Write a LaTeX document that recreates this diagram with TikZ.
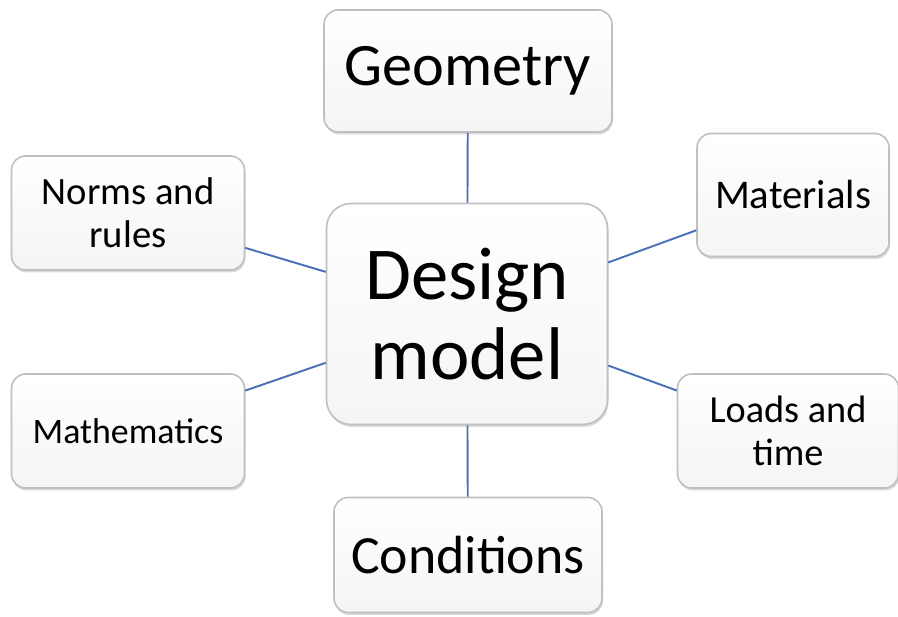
\documentclass[tikz,border=0pt]{standalone}
\usepackage{fontspec}
\setmainfont{Carlito}
\usetikzlibrary{shadows}
\definecolor{linkblue}{RGB}{74,112,182}

\tikzset{
  box/.style={rectangle,rounded corners=8pt,draw=gray!50,line width=0.9pt,
    top color=white,bottom color=gray!8,align=center,inner sep=2pt,
    drop shadow={opacity=0.3,shadow xshift=0.6pt,shadow yshift=-1.4pt}},
  big/.style={font=\fontsize{42.5}{46}\selectfont,rounded corners=14pt}
}

\begin{document}
\begin{tikzpicture}[x=0.02cm,y=-0.02cm]
    \useasboundingbox (0,0) rectangle (898,617);

    \node[box,font=\fontsize{34.3}{38}\selectfont,minimum width=5.76cm,minimum height=2.44cm] (geometry) at (468,71) {Geometry};
    \node[box,big,minimum width=5.62cm,minimum height=4.42cm] (design) at (467,314) {Design\\model};
    \node[box,font=\fontsize{22}{24.5}\selectfont,minimum width=4.66cm,minimum height=2.28cm] (norms) at (128,213) {Norms and\\rules};
    \node[box,font=\fontsize{23.2}{25}\selectfont,minimum width=3.84cm,minimum height=2.46cm] (materials) at (793,195) {Materials};
    \node[box,font=\fontsize{20.4}{23}\selectfont,minimum width=4.66cm,minimum height=2.28cm] (maths) at (128,431) {Mathematics};
    \node[box,font=\fontsize{21.8}{24.5}\selectfont,minimum width=4.42cm,minimum height=2.28cm] (loads) at (788,431) {Loads and\\time};
    \node[box,font=\fontsize{30.6}{34}\selectfont,minimum width=5.36cm,minimum height=2.30cm] (conditions) at (468,555) {Conditions};

    % spokes from the centre box
    \foreach \to in {geometry,norms,materials,maths,loads,conditions}
      \draw[linkblue,line width=1.1pt] (design) -- (\to);
\end{tikzpicture}
\end{document}
